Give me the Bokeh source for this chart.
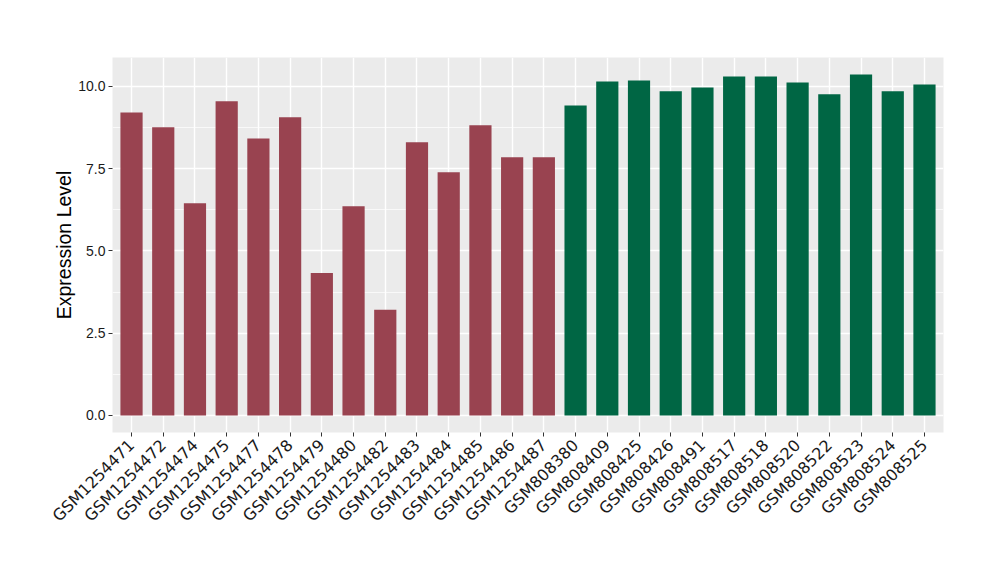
import math
from bokeh.plotting import figure
from bokeh.models import FactorRange, Range1d, FixedTicker, PrintfTickFormatter, ColumnDataSource
from bokeh.embed import file_html
from bokeh.resources import INLINE

samples = ["GSM1254471", "GSM1254472", "GSM1254474", "GSM1254475", "GSM1254477", "GSM1254478",
           "GSM1254479", "GSM1254480", "GSM1254482", "GSM1254483", "GSM1254484", "GSM1254485",
           "GSM1254486", "GSM1254487", "GSM808380", "GSM808409", "GSM808425", "GSM808426",
           "GSM808491", "GSM808517", "GSM808518", "GSM808520", "GSM808522", "GSM808523",
           "GSM808524", "GSM808525"]
values = [9.21, 8.76, 6.45, 9.55, 8.42, 9.06, 4.33, 6.36, 3.21, 8.30, 7.39, 8.82, 7.85, 7.85,
          9.42, 10.15, 10.18, 9.85, 9.97, 10.30, 10.30, 10.12, 9.76, 10.36, 9.85, 10.06]
groups = ["A"] * 14 + ["B"] * 12
group_colors = {"A": "#994350", "B": "#006644"}
y_ticks = [0, 2.5, 5.0, 7.5, 10.0]
y_minor = [1.25, 3.75, 6.25, 8.75]

src = ColumnDataSource(dict(x=samples, top=values, color=[group_colors[g] for g in groups]))

p = figure(width=984, height=564, output_backend="svg", toolbar_location=None,
           x_range=FactorRange(factors=samples, range_padding=0.1, range_padding_units="absolute"),
           y_range=Range1d(-0.518, 10.878),
           min_border_left=112, min_border_right=41, min_border_top=57, min_border_bottom=132)

p.vbar(x="x", top="top", bottom=0, width=0.7, color="color", source=src, line_color=None)

p.background_fill_color = "#EBEBEB"
p.border_fill_color = "white"
p.outline_line_color = None

p.xgrid.grid_line_color = "white"
p.xgrid.grid_line_width = 1.4
p.ygrid.grid_line_color = "white"
p.ygrid.grid_line_width = 1.4
p.ygrid.minor_grid_line_color = "white"
p.ygrid.minor_grid_line_width = 0.7

p.yaxis.ticker = FixedTicker(ticks=y_ticks, minor_ticks=y_minor)
p.yaxis.formatter = PrintfTickFormatter(format="%.1f")
p.yaxis.axis_label = "Expression Level"
p.yaxis.axis_label_text_font = "Liberation Sans"
p.yaxis.axis_label_text_font_size = "19.5px"
p.yaxis.axis_label_text_font_style = "normal"
p.yaxis.axis_label_text_color = "black"
p.yaxis.axis_label_standoff = 0

for ax in (p.xaxis, p.yaxis):
    ax.axis_line_color = None
    ax.major_tick_line_color = "#333333"
    ax.major_tick_out = 4
    ax.major_tick_in = 0
    ax.minor_tick_line_color = None
    ax.major_label_text_color = "#1a1a1a"

p.yaxis.major_label_text_font = "Liberation Sans"
p.yaxis.major_label_text_font_size = "14px"
p.yaxis.major_label_standoff = 3
p.xaxis.major_label_text_font = "DejaVu Sans"
p.xaxis.major_label_text_font_size = "16px"
p.xaxis.major_label_orientation = math.pi / 4
p.xaxis.major_label_standoff = 6

open("out.html", "w").write(file_html(p, INLINE))
